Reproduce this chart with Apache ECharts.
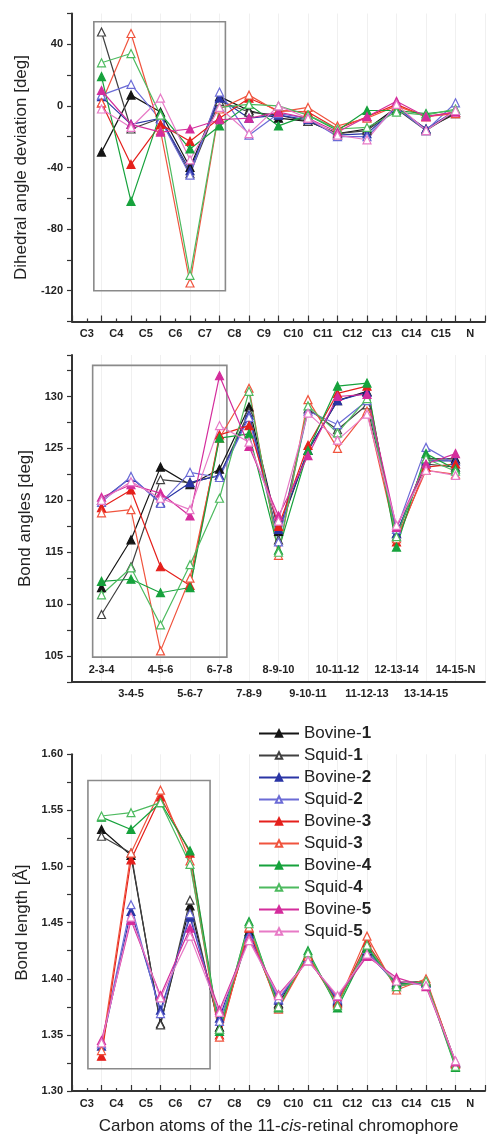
<!DOCTYPE html>
<html><head><meta charset="utf-8">
<script src="https://cdn.jsdelivr.net/npm/echarts@6/dist/echarts.min.js"></script>
<style>html,body{margin:0;padding:0;background:#fff}#c{width:488px;height:1136px}</style>
</head><body><div id="c"></div>
<script>
// ---- data ----
const atomLabels = ['C3','C4','C5','C6','C7','C8','C9','C10','C11','C12','C13','C14','C15','N'];
const angleLabels = ['2-3-4','3-4-5','4-5-6','5-6-7','6-7-8','7-8-9','8-9-10','9-10-11','10-11-12','11-12-13','12-13-14','13-14-15','14-15-N'];
const seriesNames = ['Bovine-1','Squid-1','Bovine-2','Squid-2','Bovine-3','Squid-3','Bovine-4','Squid-4','Bovine-5','Squid-5'];

const dihedralValues = [
  [-30, 7, -4, -40, 6, -3, -8, -10, -18, -15, -1, -15, -5],
  [48, -15, -8, -44, 3, -4, -6, -10, -18, -16, -2, -16, -4],
  [6, -12, -8, -42, 5, -8, -6, -9, -19, -18, -1, -15, -3],
  [7, 14, -9, -45, 9, -19, -5, -8, -20, -20, -1, -16, 2],
  [2, -38, -12, -23, -8, 5, -3, -4, -15, -7, 1, -7, -4],
  [2, 47, -16, -115, -2, 7, -4, -1, -13, -8, 0, -7, -5],
  [19, -62, -5, -28, -13, 1, -13, -6, -16, -3, -3, -5, -3],
  [28, 34, -6, -110, -1, 1, 0, -6, -15, -14, -4, -6, -2],
  [10, -12, -17, -15, -9, -8, -4, -8, -17, -7, 3, -7, -4],
  [-2, -14, 5, -35, -1, -18, 0, -8, -19, -22, 1, -16, -3]
];
const angleValues = [
  [111.6, 116.2, 123.2, 121.5, 123.0, 129.0, 117.0, 124.8, 129.6, 130.5, 116.5, 124.0, 124.0],
  [109.0, 113.6, 122.0, 121.7, 122.4, 128.5, 116.2, 128.8, 126.8, 129.2, 116.8, 123.5, 123.2],
  [120.0, 122.2, 119.8, 121.7, 122.4, 128.2, 117.2, 124.8, 129.6, 130.4, 116.8, 123.8, 123.8],
  [119.8, 122.3, 119.7, 122.7, 122.2, 128.0, 116.0, 128.6, 127.3, 129.6, 117.2, 125.1, 123.5],
  [119.3, 121.0, 113.6, 111.8, 126.3, 127.2, 117.5, 125.3, 130.3, 131.0, 116.0, 123.2, 123.5],
  [118.8, 119.1, 105.5, 112.5, 126.0, 130.8, 114.7, 129.7, 125.0, 128.6, 116.3, 122.9, 122.5],
  [112.2, 112.4, 111.1, 111.6, 126.0, 126.4, 115.2, 124.8, 131.0, 131.3, 115.5, 124.5, 123.0],
  [110.9, 113.5, 108.0, 113.8, 120.2, 130.5, 115.0, 129.1, 126.5, 129.8, 116.5, 124.0, 122.8],
  [120.3, 121.5, 120.7, 118.5, 132.0, 125.2, 118.5, 124.3, 130.0, 130.2, 117.4, 123.5, 124.5],
  [120.0, 121.8, 120.2, 119.1, 127.2, 125.6, 118.0, 128.4, 125.8, 128.3, 117.6, 122.9, 122.4]
];
const lengthValues = [
  [1.533, 1.510, 1.360, 1.465, 1.357, 1.442, 1.378, 1.420, 1.380, 1.425, 1.397, 1.397, 1.325],
  [1.527, 1.512, 1.359, 1.470, 1.355, 1.440, 1.377, 1.419, 1.379, 1.428, 1.395, 1.398, 1.326],
  [1.340, 1.460, 1.372, 1.455, 1.365, 1.440, 1.381, 1.418, 1.381, 1.423, 1.396, 1.396, 1.325],
  [1.342, 1.466, 1.369, 1.458, 1.362, 1.438, 1.382, 1.418, 1.382, 1.426, 1.394, 1.396, 1.326],
  [1.331, 1.506, 1.562, 1.512, 1.350, 1.445, 1.375, 1.421, 1.378, 1.432, 1.393, 1.398, 1.324],
  [1.336, 1.512, 1.568, 1.505, 1.348, 1.446, 1.373, 1.420, 1.377, 1.438, 1.390, 1.400, 1.325],
  [1.544, 1.533, 1.557, 1.514, 1.353, 1.451, 1.374, 1.425, 1.374, 1.427, 1.395, 1.397, 1.321],
  [1.545, 1.548, 1.557, 1.502, 1.355, 1.449, 1.375, 1.423, 1.376, 1.430, 1.393, 1.398, 1.322],
  [1.345, 1.452, 1.385, 1.445, 1.372, 1.436, 1.386, 1.416, 1.384, 1.420, 1.401, 1.393, 1.326],
  [1.343, 1.455, 1.383, 1.438, 1.370, 1.434, 1.385, 1.416, 1.385, 1.422, 1.398, 1.394, 1.327]
];
// highlighted regions (data coordinates)
const boxDihedral = [[0.74, 54.6], [5.2, -120]];
const boxAngle = [[0.70, 133.0], [5.25, 104.9]];
const boxLength = [[0.54, 1.5766], [4.68, 1.3198]];

// ---- styling ----
const FONT = "'Liberation Sans', Arial, sans-serif";
const colors = ['#151515','#404040','#2a35a5','#6b6bd6','#e5201c','#f0543e','#16a23c','#4dba5f','#d42d9c','#e77ac6'];
const axisLineStyle = {color:'#333', width:2};
const labelStyle = {fontFamily:FONT, fontSize:11, fontWeight:'bold', color:'#222'};

function dataXAxis(grid, opts) {
  return Object.assign({
    type:'value', gridIndex:grid, position:'bottom', min:0, max:14, interval:1,
    axisLine:{show:true, onZero:false, lineStyle:axisLineStyle},
    axisTick:{show:true, inside:true, length:6, lineStyle:{color:'#333', width:1.2}},
    minorTick:{show:true, splitNumber:2, length:3, lineStyle:{color:'#333', width:1.2}},
    axisLabel:{show:false},
    splitLine:{show:true, lineStyle:{color:'#f0f0f0', width:1}}
  }, opts || {});
}
function atomLabelAxis(grid, extra) {
  return Object.assign({
    type:'value', gridIndex:grid, position:'bottom', min:0, max:14, interval:0.5,
    axisLine:{show:false, onZero:false}, axisTick:{show:false}, splitLine:{show:false},
    axisLabel:Object.assign({margin:7, formatter:v => (Math.abs(v % 1 - 0.5) < 1e-6) ? atomLabels[Math.floor(v)] : ''}, labelStyle)
  }, extra || {});
}

const option = {
  animation:false,
  backgroundColor:'#fff',
  grid:[
    {left:72, right:1, top:13.5, height:308},
    {left:72, right:1, top:355, height:327},
    {left:72, right:1, top:754.3, height:338}
  ],
  xAxis:[
    dataXAxis(0),
    atomLabelAxis(0),
    dataXAxis(1, {axisTick:{show:false}, minorTick:{show:false},
      axisLabel:Object.assign({show:true, inside:true, margin:7, formatter:v => (v % 2 === 1) ? angleLabels[v-1] : ''}, labelStyle)}),
    {type:'value', gridIndex:1, position:'bottom', min:0, max:14, interval:1,
      axisLine:{show:false, onZero:false}, axisTick:{show:false}, splitLine:{show:false},
      axisLabel:Object.assign({margin:6, formatter:v => (v > 0 && v < 14 && v % 2 === 0) ? angleLabels[v-1] : ''}, labelStyle)},
    dataXAxis(2),
    atomLabelAxis(2, {
      name:'{n|Carbon atoms of the 11-}{i|cis}{n|-retinal chromophore}',
      nameLocation:'middle', nameGap:27,
      nameTextStyle:{rich:{
        n:{fontFamily:FONT, fontSize:17, color:'#222'},
        i:{fontFamily:FONT, fontSize:17, color:'#222', fontStyle:'italic'}
      }}
    })
  ],
  yAxis:[
    {type:'value', gridIndex:0, min:-140, max:60, interval:20,
      name:'Dihedral angle deviation [deg]', nameLocation:'middle', nameGap:37,
      nameTextStyle:{fontFamily:FONT, fontSize:17, color:'#222'},
      axisLine:{show:true, lineStyle:axisLineStyle},
      axisTick:{show:true, length:5, lineStyle:{color:'#333', width:1.2}},
      splitLine:{show:false},
      axisLabel:Object.assign({margin:9, formatter:v => (v % 40 === 0) ? String(v) : ''}, labelStyle)},
    {type:'value', gridIndex:1, min:102.5, max:134, interval:2.5,
      name:'Bond angles [deg]', nameLocation:'middle', nameGap:37,
      nameTextStyle:{fontFamily:FONT, fontSize:17, color:'#222'},
      axisLine:{show:true, lineStyle:axisLineStyle},
      axisTick:{show:true, length:5, lineStyle:{color:'#333', width:1.2}},
      splitLine:{show:false},
      axisLabel:Object.assign({margin:9, formatter:v => (Math.abs(v % 5) < 1e-6) ? String(Math.round(v)) : ''}, labelStyle)},
    {type:'value', gridIndex:2, min:1.3, max:1.6, interval:0.025,
      name:'Bond length [Å]', nameLocation:'middle', nameGap:37,
      nameTextStyle:{fontFamily:FONT, fontSize:17, color:'#222'},
      axisLine:{show:true, lineStyle:axisLineStyle},
      axisTick:{show:true, length:5, lineStyle:{color:'#333', width:1.2}},
      splitLine:{show:false},
      axisLabel:Object.assign({margin:9, formatter:v => { const r = Math.round(v*1000); return (r % 50 === 0) ? (r/1000).toFixed(2) : ''; }}, labelStyle)}
  ],
  legend:{
    orient:'vertical', left:258, top:725, padding:0,
    itemWidth:40, itemHeight:8, itemGap:5,
    data:seriesNames,
    formatter:name => { const p = name.split('-'); return '{a|' + p[0] + '-}{b|' + p[1] + '}'; },
    textStyle:{rich:{
      a:{fontFamily:FONT, fontSize:17, color:'#222'},
      b:{fontFamily:FONT, fontSize:17, color:'#222', fontWeight:'bold'}
    }}
  },
  series:[]
};

function addPanel(values, axisIdx, box) {
  values.forEach((row, s) => {
    const filled = s % 2 === 0;
    const ser = {
      type:'line', name:seriesNames[s],
      xAxisIndex:axisIdx.x, yAxisIndex:axisIdx.y,
      data:row.map((v, i) => [i + 1, v]),
      symbol:'triangle', symbolSize:8, showSymbol:true,
      lineStyle:{color:colors[s], width:1.2},
      itemStyle:{color:filled ? colors[s] : '#ffffff', borderColor:colors[s], borderWidth:1.2},
      z:3
    };
    if (s === 0) {
      ser.markArea = {silent:true, z:1,
        itemStyle:{color:'rgba(0,0,0,0)', borderColor:'#8a8a8a', borderWidth:1.6},
        data:[[{coord:box[0]}, {coord:box[1]}]]};
    }
    option.series.push(ser);
  });
}
addPanel(dihedralValues, {x:0, y:0}, boxDihedral);
addPanel(angleValues, {x:2, y:1}, boxAngle);
addPanel(lengthValues, {x:4, y:2}, boxLength);

const chart = echarts.init(document.getElementById('c'), null, {renderer:'canvas'});
chart.setOption(option);
</script></body></html>
